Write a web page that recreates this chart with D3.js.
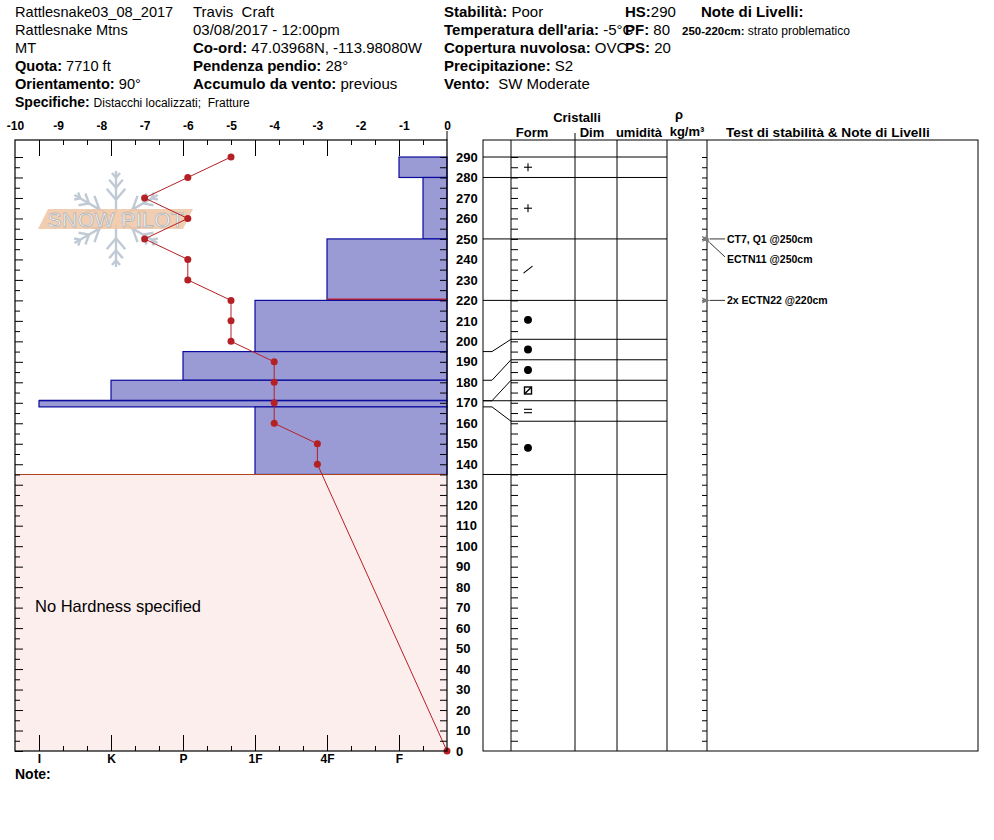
<!DOCTYPE html>
<html>
<head>
<meta charset="utf-8">
<script src="https://cdn.jsdelivr.net/npm/d3@7/dist/d3.min.js"></script>
<style>
  body { margin: 0; background: #fff; }
  svg text { font-family: "Liberation Sans", Arial, sans-serif; white-space: pre; }
</style>
</head>
<body>
<svg id="drawsvg" width="994" height="840"></svg>
<script>
// ---- data ----
var layerTop      = [290, 280, 250, 220, 195, 181, 171, 171, 168];
var layerBottom   = [280, 250, 220, 195, 181, 171, 171, 168, 135];
var layerHardness = ['F', 'F-', '4F', '1F', 'P', 'K', 'I', 'I', '1F'];
var layerGrain    = ['PP', 'PP', 'DF', 'RG', 'RG', 'RG', 'FCxr', 'IF', 'RG'];
var problemLayer  = [250, 220];

var tempDepth = [290, 280, 270, 260, 250, 240, 230, 220, 210, 200, 190, 180, 170, 160, 150, 140, 0];
var tempValue = [-5, -6, -7, -6, -7, -6, -6, -5, -5, -5, -4, -4, -4, -4, -3, -3, 0];

var testName  = ['CT7, Q1', 'ECTN11', '2x ECTN22'];
var testDepth = [250, 250, 220];

var hardnessOrder  = ['F-', 'F', 'F+', '4F-', '4F', '4F+', '1F-', '1F', '1F+', 'P-', 'P', 'P+', 'K-', 'K', 'K+', 'I-', 'I', 'I+'];
var hardnessLabels = ['I', 'K', 'P', '1F', '4F', 'F'];
var tempTicks  = d3.range(-10, 1);
var depthTicks = d3.range(0, 291, 10);

var siteInfo    = [['', 'Rattlesnake03_08_2017'], ['', 'Rattlesnake Mtns'], ['', 'MT'], ['Quota: ', '7710 ft'], ['Orientamento: ', '90°']];
var obsInfo     = [['', 'Travis  Craft'], ['', '03/08/2017 - 12:00pm'], ['Co-ord: ', '47.03968N, -113.98080W'], ['Pendenza pendio: ', '28°'], ['Accumulo da vento: ', 'previous']];
var weatherInfo = [['Stabilità: ', 'Poor'], ["Temperatura dell'aria: ", '-5°C'], ['Copertura nuvolosa: ', 'OVC'], ['Precipitazione: ', 'S2'], ['Vento: ', ' SW Moderate']];
var depthInfo   = [['HS:', '290'], ['PF: ', '80'], ['PS: ', '20']];
var specifiche  = 'Distacchi localizzati;  Fratture';
var layerNote   = 'strato problematico';

// ---- layout ----
var chart = {left: 15, right: 447, top: 140, bottom: 751};
var panel = {left: 483, right: 978, cols: [511, 575, 617, 667, 707]};
var purple = '#9a9ad4', navy = '#0a0a9c', red = '#b52025';

var svg = d3.select('#drawsvg');

var x  = d3.scaleLinear().domain([-10, 0]).range([chart.left, chart.right]);
var hx = d3.scaleLinear().domain([0, hardnessOrder.length]).range([chart.right, chart.left]);
var y  = d3.scaleLinear().domain([0, 290]).range([chart.bottom, 157]);

function hardX(code){
  return hx(hardnessOrder.indexOf(code) + 1);
}

function infoColumn(rows, x0, y0, size){
  for(var i = 0; i < rows.length; i ++){
    var t = svg.append('text').attr('x', x0).attr('y', y0 + i * 18).style('font-size', size + 'px');
    if(rows[i][0])
      t.append('tspan').style('font-weight', 'bold').text(rows[i][0]);
    t.append('tspan').text(rows[i][1]);
  }
}

// ---- header ----
infoColumn(siteInfo, 15, 17, 14.6);
infoColumn(obsInfo, 193, 17, 15);
infoColumn(weatherInfo, 444, 17, 15);
infoColumn(depthInfo, 625, 17, 15);

var spec = svg.append('text').attr('x', 15).attr('y', 107);
spec.append('tspan').style('font-weight', 'bold').style('font-size', '14px').text('Specifiche: ');
spec.append('tspan').style('font-size', '12px').text(specifiche);

svg.append('text').attr('x', 701).attr('y', 17).style('font-size', '15px').style('font-weight', 'bold').text('Note di Livelli:');
var nt = svg.append('text').attr('x', 682).attr('y', 35);
nt.append('tspan').style('font-size', '11.5px').style('font-weight', 'bold').text(problemLayer[0] + '-' + problemLayer[1] + 'cm: ');
nt.append('tspan').style('font-size', '12px').text(layerNote);

// ---- snow pilot watermark ----
function drawLogo(cx, cy, r){
  var g = svg.append('g').attr('class', 'logo');
  var flake = g.append('g').style('stroke', '#bfcad5').style('stroke-width', 2.4).style('fill', 'none');
  for(var a = 0; a < 6; a ++){
    var ang = (a * 60 + 30) * Math.PI / 180;
    var ux = Math.cos(ang), uy = Math.sin(ang);
    flake.append('line')
      .attr('x1', cx + ux * r * 0.12).attr('y1', cy + uy * r * 0.12)
      .attr('x2', cx + ux * r).attr('y2', cy + uy * r);
    var branch = [[0.4, 0.3], [0.65, 0.22], [0.86, 0.13]];
    for(var b = 0; b < branch.length; b ++){
      var bx = cx + ux * r * branch[b][0], by = cy + uy * r * branch[b][0];
      var len = r * branch[b][1];
      [-0.7, 0.7].forEach(function(s){
        var ba = ang + s;
        flake.append('line')
          .attr('x1', bx).attr('y1', by)
          .attr('x2', bx + Math.cos(ba) * len).attr('y2', by + Math.sin(ba) * len);
      });
    }
  }
  g.append('polygon')
    .attr('points', [[38, 229], [48, 209], [193, 209], [183, 229]].join(' '))
    .style('fill', '#efc6a4').style('opacity', 0.85);
  g.append('text')
    .attr('x', cx).attr('y', 227)
    .attr('text-anchor', 'middle')
    .style('font-size', '21px')
    .style('fill', '#fff')
    .style('stroke', '#b8b8b8')
    .style('stroke-width', 0.9)
    .style('letter-spacing', '0.5px')
    .text('SNOW PILOT');
}
drawLogo(116, 219, 48);

// ---- hardness layers ----
var lg = svg.append('g').attr('class', 'layers');
for(var i = 0; i < layerTop.length; i ++){
  var lx = hardX(layerHardness[i]);
  var y0 = y(layerTop[i]), y1 = y(layerBottom[i]);
  if(y1 - y0 < 0.5){
    lg.append('line')
      .attr('x1', lx).attr('x2', chart.right)
      .attr('y1', y0).attr('y2', y0)
      .style('stroke', navy).style('stroke-width', 2.2);
  }else{
    lg.append('rect')
      .attr('x', lx).attr('y', y0)
      .attr('width', chart.right - lx).attr('height', y1 - y0)
      .style('fill', purple).style('stroke', navy).style('stroke-width', 1.2);
  }
  if(layerBottom[i] == problemLayer[1] && layerTop[i] == problemLayer[0]){
    lg.append('line')
      .attr('x1', lx).attr('x2', chart.right)
      .attr('y1', y1 - 1).attr('y2', y1 - 1)
      .style('stroke', '#c8202a').style('stroke-width', 2);
  }
}

// no hardness zone under the last layer
var lastBottom = d3.min(layerBottom);
svg.append('rect')
  .attr('x', chart.left).attr('y', y(lastBottom))
  .attr('width', chart.right - chart.left).attr('height', chart.bottom - y(lastBottom))
  .style('fill', '#fdeeee');
svg.append('line')
  .attr('x1', chart.left).attr('x2', chart.right)
  .attr('y1', y(lastBottom)).attr('y2', y(lastBottom))
  .style('stroke', '#b0421c').style('stroke-width', 1.2);
svg.append('text')
  .attr('x', 35).attr('y', 612)
  .style('font-size', '16.5px')
  .text('No Hardness specified');

// ---- temperature profile ----
var tempLine = d3.line()
  .x(function(d, i){ return x(tempValue[i]); })
  .y(function(d){ return y(d); });
svg.append('path')
  .attr('d', tempLine(tempDepth))
  .style('fill', 'none').style('stroke', red).style('stroke-width', 1);
svg.selectAll('.tdot').data(tempDepth).enter().append('circle')
  .attr('class', 'tdot')
  .attr('cx', function(d, i){ return x(tempValue[i]); })
  .attr('cy', function(d){ return y(d); })
  .attr('r', 3.5)
  .style('fill', red);

// ---- axes ----
function styleAxis(g, size){
  g.selectAll('line').style('stroke', '#000');
  g.selectAll('path').style('stroke', '#000');
  g.selectAll('text').style('fill', '#000').style('font-weight', 'bold')
   .style('font-size', size + 'px').style('font-family', '"Liberation Sans", Arial, sans-serif');
}

var majorIdx = hardnessLabels.map(function(c){ return hardnessOrder.indexOf(c) + 1; });
var minorIdx = d3.range(1, hardnessOrder.length).filter(function(k){ return majorIdx.indexOf(k) < 0; });

// temperature labels on top
var gt = svg.append('g').attr('transform', 'translate(0,' + chart.top + ')')
  .call(d3.axisTop(x).tickValues(tempTicks).tickSize(0).tickPadding(10).tickFormat(function(d){ return String(d); }));
gt.select('.domain').remove();
styleAxis(gt, 12);

// hardness ticks, top and bottom
var ghT = svg.append('g').attr('transform', 'translate(0,' + chart.top + ')')
  .call(d3.axisBottom(hx).tickValues(majorIdx).tickSizeInner(16).tickSizeOuter(0).tickFormat(''));
ghT.select('.domain').remove();
styleAxis(ghT, 12);
var ghTm = svg.append('g').attr('transform', 'translate(0,' + chart.top + ')')
  .call(d3.axisBottom(hx).tickValues(minorIdx).tickSizeInner(5).tickSizeOuter(0).tickFormat(''));
ghTm.select('.domain').remove();
styleAxis(ghTm, 12);

var ghB = svg.append('g').attr('transform', 'translate(0,' + chart.bottom + ')')
  .call(d3.axisBottom(hx).tickValues(majorIdx).tickSizeInner(-16).tickSizeOuter(0).tickPadding(3)
    .tickFormat(function(k){ return hardnessOrder[k - 1]; }));
ghB.select('.domain').remove();
styleAxis(ghB, 12);
var ghBm = svg.append('g').attr('transform', 'translate(0,' + chart.bottom + ')')
  .call(d3.axisBottom(hx).tickValues(minorIdx).tickSizeInner(-5).tickSizeOuter(0).tickFormat(''));
ghBm.select('.domain').remove();
styleAxis(ghBm, 12);

// depth ticks on the profile sides
var gl = svg.append('g').attr('transform', 'translate(' + chart.left + ',0)')
  .call(d3.axisRight(y).tickValues(depthTicks).tickSize(8).tickFormat(''));
gl.select('.domain').remove();
styleAxis(gl, 12);
var glm = svg.append('g').attr('transform', 'translate(' + chart.left + ',0)')
  .call(d3.axisRight(y).tickValues(d3.range(5, 291, 10)).tickSize(5).tickFormat(''));
glm.select('.domain').remove();
styleAxis(glm, 12);

var gr = svg.append('g').attr('transform', 'translate(' + chart.right + ',0)')
  .call(d3.axisLeft(y).tickValues(d3.range(5, 291, 5)).tickSize(7).tickFormat(''));
gr.select('.domain').remove();
styleAxis(gr, 12);
var grl = svg.append('g').attr('transform', 'translate(' + chart.right + ',0)')
  .call(d3.axisRight(y).tickValues(depthTicks).tickSize(0).tickPadding(9));
grl.select('.domain').remove();
styleAxis(grl, 13);

// frame of the profile
svg.append('rect')
  .attr('x', chart.left).attr('y', chart.top)
  .attr('width', chart.right - chart.left).attr('height', chart.bottom - chart.top)
  .style('fill', 'none').style('stroke', '#000').style('stroke-width', 1.2);
svg.append('line')
  .attr('x1', chart.right).attr('x2', chart.right).attr('y1', 131).attr('y2', chart.top)
  .style('stroke', '#000');

// ---- right panel ----
svg.append('rect')
  .attr('x', panel.left).attr('y', chart.top)
  .attr('width', panel.right - panel.left).attr('height', chart.bottom - chart.top)
  .style('fill', 'none').style('stroke', '#000');
panel.cols.forEach(function(cx){
  svg.append('line').attr('x1', cx).attr('x2', cx).attr('y1', chart.top).attr('y2', chart.bottom).style('stroke', '#000');
});
svg.append('line').attr('x1', 575).attr('x2', 575).attr('y1', 133).attr('y2', chart.top).style('stroke', '#000');

var gf = svg.append('g').attr('transform', 'translate(' + panel.cols[0] + ',0)')
  .call(d3.axisRight(y).tickValues(d3.range(5, 291, 5)).tickSize(7).tickFormat(''));
gf.select('.domain').remove();
styleAxis(gf, 12);
var gs = svg.append('g').attr('transform', 'translate(' + panel.cols[4] + ',0)')
  .call(d3.axisLeft(y).tickValues(d3.range(5, 291, 5)).tickSize(5).tickFormat(''));
gs.select('.domain').remove();
styleAxis(gs, 12);

// header of the panel
function headText(tx, ty, txt, anchor, size){
  svg.append('text').attr('x', tx).attr('y', ty)
    .attr('text-anchor', anchor || 'middle')
    .style('font-size', (size || 13) + 'px').style('font-weight', 'bold').text(txt);
}
headText(577, 122, 'Cristalli');
headText(532, 137, 'Form');
headText(592, 137, 'Dim');
headText(639, 137, 'umidità');
headText(679, 119, 'ρ');
headText(687, 136, 'kg/m³');
headText(726, 137, 'Test di stabilità & Note di Livelli', 'start', 13.6);

// grain rows: thin layers get spread so each row is at least 10 cm high
var edges = layerTop.concat([lastBottom]);
var gridAnchor = 7; // the 171 cm line stays where it is
var minRow = 10;
var disp = edges.slice();
for(var i = gridAnchor - 1; i >= 0; i --)
  disp[i] = Math.max(edges[i], disp[i + 1] + minRow);
for(var i = gridAnchor + 1; i < edges.length; i ++)
  disp[i] = Math.min(edges[i], disp[i - 1] - minRow);

for(var i = 0; i < edges.length; i ++){
  var pts = [[panel.left, y(edges[i])], [492, y(edges[i])], [panel.cols[0], y(disp[i])], [panel.cols[3], y(disp[i])]];
  svg.append('path')
    .attr('d', d3.line()(pts))
    .style('fill', 'none').style('stroke', '#000').style('stroke-width', 1);
}

function drawGrain(code, cx, cy){
  var g = svg.append('g').style('stroke', '#000').style('stroke-width', 1.1).style('fill', 'none');
  if(code == 'PP'){
    g.append('line').attr('x1', cx - 4).attr('x2', cx + 4).attr('y1', cy).attr('y2', cy);
    g.append('line').attr('x1', cx).attr('x2', cx).attr('y1', cy - 4).attr('y2', cy + 4);
  }else if(code == 'DF'){
    g.append('line').attr('x1', cx - 4.5).attr('x2', cx + 4.5).attr('y1', cy + 3.5).attr('y2', cy - 3.5);
  }else if(code == 'RG'){
    g.append('circle').attr('cx', cx).attr('cy', cy).attr('r', 3.4).style('fill', '#000');
  }else if(code == 'FCxr'){
    g.append('rect').attr('x', cx - 3.5).attr('y', cy - 3.5).attr('width', 7).attr('height', 7).style('stroke-width', 1.4);
    g.append('line').attr('x1', cx - 3.5).attr('x2', cx + 3.5).attr('y1', cy + 3.5).attr('y2', cy - 3.5).style('stroke-width', 1.4);
  }else if(code == 'IF'){
    g.append('line').attr('x1', cx - 4).attr('x2', cx + 4).attr('y1', cy - 1.7).attr('y2', cy - 1.7);
    g.append('line').attr('x1', cx - 4).attr('x2', cx + 4).attr('y1', cy + 1.7).attr('y2', cy + 1.7);
  }
}
for(var i = 0; i < layerGrain.length; i ++)
  drawGrain(layerGrain[i], 528, y((disp[i] + disp[i + 1]) / 2));

// ---- stability tests ----
var defs = svg.append('defs');
defs.append('marker')
  .attr('id', 'arrow').attr('viewBox', '0 0 9 7')
  .attr('refX', 0.5).attr('refY', 3.5)
  .attr('markerWidth', 9).attr('markerHeight', 7)
  .attr('markerUnits', 'userSpaceOnUse')
  .attr('orient', 'auto-start-reverse')
  .append('path').attr('d', 'M0,3.5 L9,0.5 L7,3.5 L9,6.5 Z').style('fill', '#7a7a7a');

var testCount = {};
for(var i = 0; i < testName.length; i ++){
  var d = testDepth[i];
  var k = testCount[d] || 0;
  testCount[d] = k + 1;
  var ty = y(d) + k * 20;
  svg.append('line')
    .attr('x1', 710).attr('y1', y(d) + (k ? 4 : 0))
    .attr('x2', 725).attr('y2', ty - (k ? 2 : 0))
    .attr('marker-start', 'url(#arrow)')
    .style('stroke', '#000').style('stroke-width', 0.8);
  svg.append('text')
    .attr('x', 727).attr('y', ty + 4)
    .style('font-size', '10.5px').style('font-weight', 'bold')
    .text(testName[i] + ' @' + d + 'cm');
}

svg.append('text').attr('x', 15).attr('y', 779)
  .style('font-size', '14px').style('font-weight', 'bold').text('Note:');
</script>
</body>
</html>
